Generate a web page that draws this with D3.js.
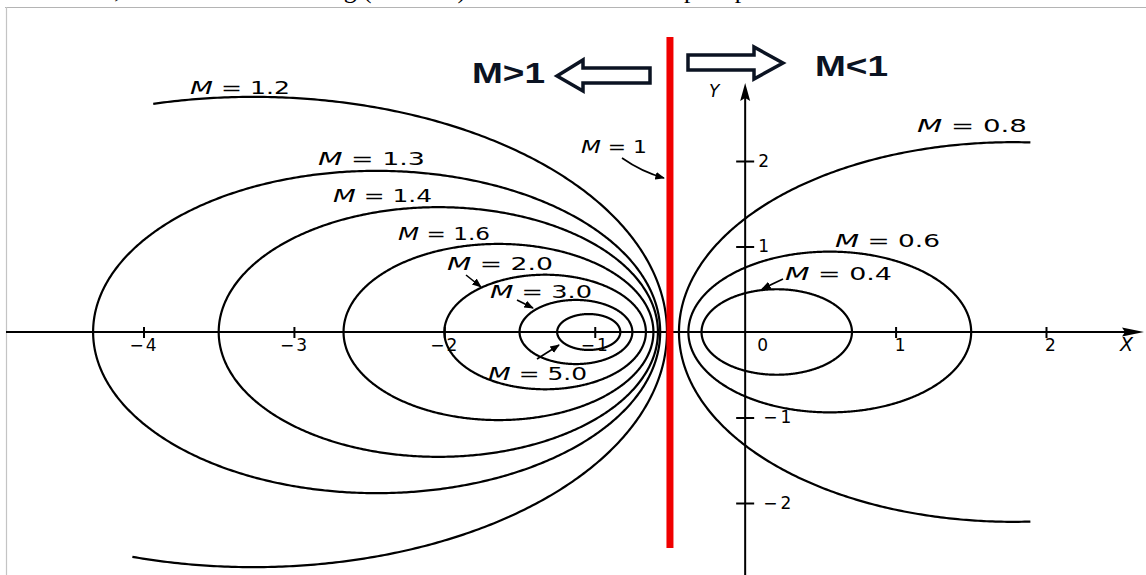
<!DOCTYPE html>
<html><head><meta charset="utf-8">
<script src="https://cdn.jsdelivr.net/npm/d3@7"></script>
<style>html,body{margin:0;padding:0;background:#fff;overflow:hidden}</style>
</head><body>
<svg id="c" width="1146" height="575" xmlns="http://www.w3.org/2000/svg"></svg>
<script>
// ---- data ----
const mValues  = [1.2, 1.3, 1.4, 1.6, 2.0, 3.0, 5.0, 0.8, 0.6, 0.4];
const centerX  = [-3.27, -2.45, -2.04, -1.64, -1.33, -1.125, -1.04, 1.78, 0.5625, 0.21];
const radius   = [2.75, 1.885, 1.46, 1.03, 0.67, 0.375, 0.21, 2.22, 0.94, 0.50];
const arcStart = [-107, 0, 0, 0, 0, 0, 0, 87, 0, 0];     // degrees
const arcEnd   = [104, 360, 360, 360, 360, 360, 360, 273, 360, 360];
const mLabels  = ["1.2", "1.3", "1.4", "1.6", "2.0", "3.0", "5.0", "0.8", "0.6", "0.4"];
const mOneX    = -0.5;
const xTicks   = [-4, -3, -2, -1, 1, 2];
const yTicks   = [2, 1, -1, -2];
const regionLabels = ["M>1", "M<1"];
const topLine  = "Therefore, we have the following (constant) M circles in the complex plane as shown below:";

// ---- setup ----
const svg = d3.select("#c");
const x = d3.scaleLinear().domain([-4, 2]).range([143.5, 1046]);
const y = d3.scaleLinear().domain([-2, 2]).range([503, 161]);
const ink = "#000";
const sans = "'DejaVu Sans', sans-serif";

// page context: cut-off document line and picture frame
const tl = svg.append("text").attr("font-family", "'Liberation Serif', serif")
  .attr("font-size", 24).attr("y", -2.5).attr("fill", "#000").text(topLine);
{
  const node = tl.node();
  const s = topLine.indexOf("(");
  const e = topLine.indexOf(")");
  const w = node.getSubStringLength(s, e - s + 1);
  const fs = 24 * 103 / w;
  tl.attr("font-size", fs);
  const off = node.getSubStringLength(0, s);
  tl.attr("x", 363 - off);
}
svg.append("rect").attr("x", 0).attr("y", 7).attr("width", 1146).attr("height", 568).attr("fill", "#fff");
svg.append("line").attr("x1", 5).attr("x2", 1146).attr("y1", 7.5).attr("y2", 7.5)
  .attr("stroke", "#b4b4b4").attr("stroke-width", 1.2);
svg.append("line").attr("x1", 6.5).attr("x2", 6.5).attr("y1", 7).attr("y2", 575)
  .attr("stroke", "#c4c4c4").attr("stroke-width", 1.2);

const defs = svg.append("defs");
defs.append("marker").attr("id", "ah").attr("viewBox", "0 0 10 10")
  .attr("refX", 9).attr("refY", 5).attr("markerWidth", 6).attr("markerHeight", 6)
  .attr("orient", "auto").append("path").attr("d", "M0,1L10,5L0,9z").attr("fill", ink);

// ---- axes ----
const x0 = x(0), y0 = y(0);
svg.append("line").attr("x1", 6).attr("x2", 1128).attr("y1", y0).attr("y2", y0)
  .attr("stroke", ink).attr("stroke-width", 2);
svg.append("path").attr("d", `M1144,${y0}L1122,${y0 - 4.5}L1125,${y0}L1122,${y0 + 4.5}Z`).attr("fill", ink);
svg.append("line").attr("x1", x0).attr("x2", x0).attr("y1", 575).attr("y2", 96)
  .attr("stroke", ink).attr("stroke-width", 2);
svg.append("path").attr("d", `M${x0},83L${x0 - 5},101L${x0},98L${x0 + 5},101Z`).attr("fill", ink);

const fmt = d => d < 0 ? "\u2212" + Math.abs(d) : String(d);
const gx = svg.append("g").attr("transform", `translate(0,${y0})`)
  .call(d3.axisBottom(x).tickValues(xTicks).tickSize(6).tickFormat(fmt));
gx.select(".domain").remove();
gx.selectAll(".tick line").attr("y1", -5).attr("y2", 6).attr("stroke", ink).attr("stroke-width", 2);
gx.selectAll(".tick text").attr("y", 19).attr("dy", 0).attr("dx", d => d < 0 ? 0 : 5)
  .attr("font-family", sans).attr("font-size", 17).attr("fill", ink)
  .attr("letter-spacing", 2);

const gy = svg.append("g").attr("transform", `translate(${x0},0)`)
  .call(d3.axisRight(y).tickValues(yTicks).tickSize(9).tickFormat(fmt));
gy.select(".domain").remove();
gy.selectAll(".tick line").attr("x1", -9).attr("x2", 9).attr("stroke", ink).attr("stroke-width", 2);
gy.selectAll(".tick text").attr("x", d => d < 0 ? 18 : 13).attr("font-family", sans)
  .attr("font-size", 17).attr("fill", ink).attr("letter-spacing", 3);

svg.append("text").attr("x", x0 + 12).attr("y", 351).attr("font-family", sans)
  .attr("font-size", 17).text("0");
svg.append("text").attr("x", 1120).attr("y", 351).attr("font-family", sans)
  .attr("font-style", "italic").attr("font-size", 19).text("X");
svg.append("text").attr("x", 709).attr("y", 97).attr("font-family", sans)
  .attr("font-style", "italic").attr("font-size", 17).text("Y");

// ---- M circles ----
const line = d3.line().x(p => x(p[0])).y(p => y(p[1]));
mValues.forEach((m, i) => {
  const pts = d3.range(arcStart[i], arcEnd[i] + 0.25, 0.5).map(a => {
    const t = a * Math.PI / 180;
    return [centerX[i] + radius[i] * Math.cos(t), radius[i] * Math.sin(t)];
  });
  svg.append("path").attr("d", line(pts)).attr("fill", "none")
    .attr("stroke", ink).attr("stroke-width", 2.2);
});

// M = 1 line
svg.append("line").attr("x1", x(mOneX)).attr("x2", x(mOneX)).attr("y1", 37).attr("y2", 548)
  .attr("stroke", "#f00000").attr("stroke-width", 7);

// ---- labels ----
const labelPos = [
  {x: 190, y: 94, w: 100}, {x: 318, y: 165, w: 107}, {x: 333, y: 202, w: 99},
  {x: 398, y: 240, w: 92}, {x: 447, y: 270, w: 106}, {x: 490, y: 298, w: 102},
  {x: 488, y: 380, w: 99}, {x: 917, y: 132, w: 110}, {x: 835, y: 247, w: 105},
  {x: 785, y: 280, w: 107}
];
function mLabel(txt, p) {
  const t = svg.append("text").attr("x", p.x).attr("y", p.y).attr("font-family", sans)
    .attr("font-size", 17).attr("fill", ink).attr("textLength", p.w)
    .attr("lengthAdjust", "spacingAndGlyphs");
  t.append("tspan").attr("font-style", "italic").attr("font-size", 18).text("M");
  t.append("tspan").text(" = " + txt);
}
mLabels.forEach((l, i) => mLabel(l, labelPos[i]));
mLabel("1", {x: 581, y: 153, w: 66});

// pointer arrows
const pointers = [
  "M466,275L481,287", "M517,300L533,308", "M537,359L559,345",
  "M622,158Q642,172,664,178", "M783,279L762,289"
];
pointers.forEach(d => svg.append("path").attr("d", d).attr("fill", "none")
  .attr("stroke", ink).attr("stroke-width", 1.6).attr("marker-end", "url(#ah)"));

// region arrows
const navy = "#0b1322";
svg.append("path").attr("d", "M557,76L583,60L583,68L650,68L650,83L583,83L583,91Z")
  .attr("fill", "#fff").attr("stroke", navy).attr("stroke-width", 3.5).attr("stroke-linejoin", "miter");
svg.append("path").attr("d", "M783,63L754,47L754,55L688,55L688,70L754,70L754,79Z")
  .attr("fill", "#fff").attr("stroke", navy).attr("stroke-width", 3.5).attr("stroke-linejoin", "miter");
svg.append("text").attr("x", 472).attr("y", 83).attr("font-family", "'Liberation Sans', Arial, sans-serif")
  .attr("font-weight", "bold").attr("font-size", 29).attr("fill", navy)
  .attr("textLength", 73).attr("lengthAdjust", "spacingAndGlyphs").text(regionLabels[0]);
svg.append("text").attr("x", 815).attr("y", 76).attr("font-family", "'Liberation Sans', Arial, sans-serif")
  .attr("font-weight", "bold").attr("font-size", 29).attr("fill", navy)
  .attr("textLength", 73).attr("lengthAdjust", "spacingAndGlyphs").text(regionLabels[1]);
</script>
</body></html>
